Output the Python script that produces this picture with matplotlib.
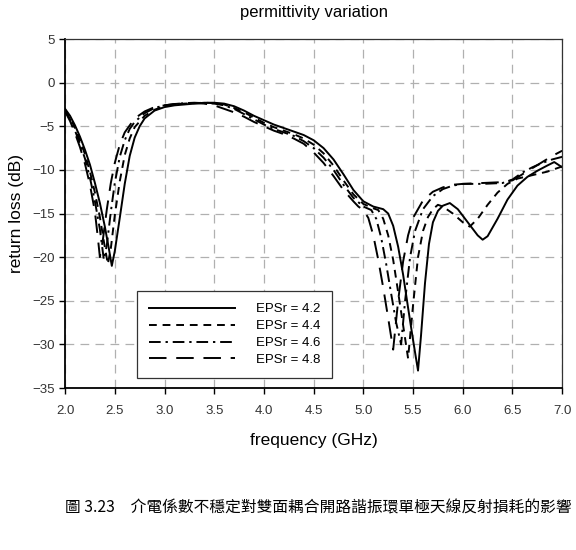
import matplotlib.pyplot as plt

# EPSr = 4.2
freq_42 = [2.0, 2.05, 2.1, 2.15, 2.2, 2.25, 2.3, 2.35, 2.4, 2.44, 2.47, 2.5, 2.55, 2.6, 2.65, 2.7, 2.75, 2.8, 2.9,
           3.0, 3.1, 3.2, 3.3, 3.4, 3.5, 3.6, 3.7, 3.8, 3.9, 4.0, 4.1, 4.2, 4.3, 4.4, 4.5, 4.6, 4.7, 4.8, 4.9,
           5.0, 5.1, 5.2, 5.25, 5.3, 5.35, 5.4, 5.45, 5.5, 5.55, 5.58, 5.62, 5.66, 5.7, 5.75, 5.8, 5.87, 5.95,
           6.05, 6.15, 6.2, 6.25, 6.35, 6.45, 6.55, 6.65, 6.75, 6.85, 6.92, 7.0]
rl_42 = [-3.0, -3.8, -4.9, -6.2, -7.7, -9.4, -11.5, -13.8, -16.5, -19.0, -21.0, -19.3, -15.5, -11.6, -8.4, -6.3, -5.0,
         -4.1, -3.2, -2.8, -2.6, -2.5, -2.4, -2.3, -2.3, -2.4, -2.7, -3.2, -3.8, -4.3, -4.8, -5.2, -5.6, -6.0, -6.6,
         -7.5, -8.8, -10.5, -12.3, -13.6, -14.2, -14.5, -15.0, -16.4, -18.8, -22.0, -25.8, -29.5, -33.0, -29.0,
         -23.0, -18.5, -16.0, -14.7, -14.1, -13.8, -14.5, -16.0, -17.5, -18.0, -17.6, -15.6, -13.4, -11.8, -10.8,
         -10.1, -9.5, -9.1, -9.7]

# EPSr = 4.4
freq_44 = [2.0, 2.05, 2.1, 2.15, 2.2, 2.25, 2.3, 2.35, 2.39, 2.43, 2.46, 2.5, 2.55, 2.6, 2.65, 2.7, 2.8, 2.9,
           3.0, 3.1, 3.2, 3.3, 3.4, 3.5, 3.6, 3.7, 3.8, 3.9, 4.0, 4.1, 4.2, 4.3, 4.4, 4.5, 4.6, 4.7, 4.8, 4.9,
           5.0, 5.1, 5.15, 5.2, 5.25, 5.3, 5.35, 5.4, 5.45, 5.5, 5.55, 5.6, 5.65, 5.7, 5.75, 5.8, 5.9, 6.0,
           6.07, 6.15, 6.25, 6.35, 6.45, 6.55, 6.7, 6.85, 7.0]
rl_44 = [-3.1, -4.0, -5.2, -6.6, -8.2, -10.2, -12.6, -15.4, -18.2, -20.8, -19.0, -15.2, -11.3, -8.3, -6.4, -5.1,
         -3.8, -3.1, -2.7, -2.5, -2.4, -2.35, -2.3, -2.35, -2.5, -2.9, -3.4, -4.0, -4.6, -5.1, -5.5, -5.9, -6.4,
         -7.1, -8.1, -9.5, -11.2, -12.8, -13.9, -14.4, -14.6, -15.6, -17.5, -20.3, -24.0, -27.8, -31.6, -25.5,
         -20.0, -17.0, -15.4, -14.5, -14.0, -14.2, -15.0, -16.0, -16.5, -15.6, -14.0, -12.6, -11.6, -11.0,
         -10.6, -10.2, -9.6]

# EPSr = 4.6
freq_46 = [2.0, 2.05, 2.1, 2.15, 2.2, 2.25, 2.3, 2.35, 2.39, 2.42, 2.46, 2.5, 2.55, 2.6, 2.65, 2.7, 2.8, 2.9,
           3.0, 3.1, 3.2, 3.3, 3.4, 3.5, 3.6, 3.7, 3.8, 3.9, 4.0, 4.1, 4.2, 4.3, 4.4, 4.5, 4.6, 4.7, 4.8, 4.9,
           5.0, 5.08, 5.13, 5.18, 5.23, 5.28, 5.33, 5.38, 5.42, 5.47, 5.52, 5.6, 5.7, 5.8, 5.9, 6.0, 6.2, 6.4,
           6.5, 6.6, 6.7, 6.8, 6.9, 7.0]
rl_46 = [-3.2, -4.2, -5.5, -7.0, -8.7, -10.9, -13.6, -16.8, -20.3, -18.6, -14.8, -11.5, -8.5, -6.6, -5.3, -4.5,
         -3.5, -2.9, -2.6, -2.45, -2.35, -2.3, -2.35, -2.4, -2.6, -3.0, -3.6, -4.2, -4.8, -5.3, -5.7, -6.1, -6.7,
         -7.5, -8.6, -10.0, -11.7, -13.2, -14.2, -14.6, -15.6, -17.8, -20.8, -24.2, -27.5, -30.0, -25.0, -20.0,
         -17.0, -14.5, -13.0, -12.2, -11.8, -11.6, -11.6, -11.5, -11.1, -10.3, -9.7, -9.2, -8.8, -8.5]

# EPSr = 4.8
freq_48 = [2.0, 2.05, 2.1, 2.15, 2.2, 2.25, 2.3, 2.33, 2.35, 2.38, 2.42, 2.46, 2.5, 2.55, 2.6, 2.7, 2.8, 2.9,
           3.0, 3.1, 3.2, 3.3, 3.4, 3.5, 3.6, 3.7, 3.8, 3.9, 4.0, 4.1, 4.2, 4.3, 4.4, 4.5, 4.6, 4.7, 4.8, 4.9,
           4.95, 5.0, 5.05, 5.1, 5.15, 5.2, 5.25, 5.3, 5.35, 5.4, 5.45, 5.5, 5.6, 5.7, 5.8, 5.9, 6.0, 6.2, 6.4,
           6.5, 6.6, 6.7, 6.8, 6.9, 7.0]
rl_48 = [-3.3, -4.4, -5.8, -7.4, -9.3, -11.7, -14.8, -17.8, -20.0, -18.0, -14.5, -11.5, -9.2, -7.1, -5.7, -4.1,
         -3.3, -2.8, -2.6, -2.45, -2.35, -2.35, -2.4, -2.6, -3.0, -3.4, -3.9, -4.5, -5.0, -5.5, -5.9, -6.4, -7.0,
         -8.0, -9.2, -10.7, -12.3, -13.6, -14.2, -14.6, -15.5, -17.5, -20.3, -23.5, -27.0, -30.6, -25.0, -20.5,
         -17.5, -15.5, -13.5, -12.5, -12.0, -11.7, -11.6, -11.5, -11.4, -11.2, -10.5, -9.8, -9.1, -8.4, -7.8]

labels = ['EPSr = 4.2', 'EPSr = 4.4', 'EPSr = 4.6', 'EPSr = 4.8']
caption = '圖 3.23\u3000介電係數不穩定對雙面耦合開路諧振環單極天線反射損耗的影響'

plt.rcParams['font.family'] = ['Liberation Sans', 'DejaVu Sans']

fig = plt.figure(figsize=(5.76, 5.5), dpi=100)
ax = fig.add_axes([0.113, 0.2945, 0.863, 0.6345])

ax.plot(freq_42, rl_42, color='black', lw=1.4, linestyle='-', label=labels[0])
ax.plot(freq_44, rl_44, color='black', lw=1.4, linestyle=(0, (4, 3)), label=labels[1])
ax.plot(freq_46, rl_46, color='black', lw=1.4, linestyle=(0, (6, 2.5, 1.2, 2.5)), label=labels[2])
ax.plot(freq_48, rl_48, color='black', lw=1.4, linestyle=(0, (9, 5)), label=labels[3])

ax.set_xlim(2.0, 7.0)
ax.set_ylim(-35, 5)
ax.set_xticks([2.0 + 0.5 * i for i in range(11)])
ax.set_yticks(list(range(-35, 6, 5)))
ax.set_xticklabels([f'{2.0 + 0.5 * i:.1f}' for i in range(11)])
ax.grid(True, color='#b0b0b0', linestyle=(0, (7, 5)), lw=0.9)
ax.set_axisbelow(True)
ax.tick_params(direction='out', length=4, width=1, labelsize=9.5, labelcolor='#333333')
ax.tick_params(axis='x', pad=8)
for side in ['left', 'bottom']:
    ax.spines[side].set_linewidth(1.3)
for side in ['top', 'right']:
    ax.spines[side].set_linewidth(0.9)
    ax.spines[side].set_color('#333333')

ax.set_title('permittivity variation', fontsize=12, pad=16)
ax.set_xlabel('frequency (GHz)', fontsize=12.5, labelpad=12)
ax.set_ylabel('return loss (dB)', fontsize=12.5, labelpad=6)

leg = ax.legend(loc='lower left', bbox_to_anchor=(0.145, 0.029), fontsize=9.5, handlelength=6.5,
                handletextpad=1.6, fancybox=False, framealpha=1, edgecolor='#333333',
                borderpad=0.9, labelspacing=0.35, borderaxespad=0)
leg.get_frame().set_linewidth(0.9)

fig.text(0.112, 0.077, caption, fontsize=11.3, ha='left', va='center',
         family=['Noto Sans CJK TC', 'DejaVu Sans'])

fig.savefig('out.png', dpi=100)
